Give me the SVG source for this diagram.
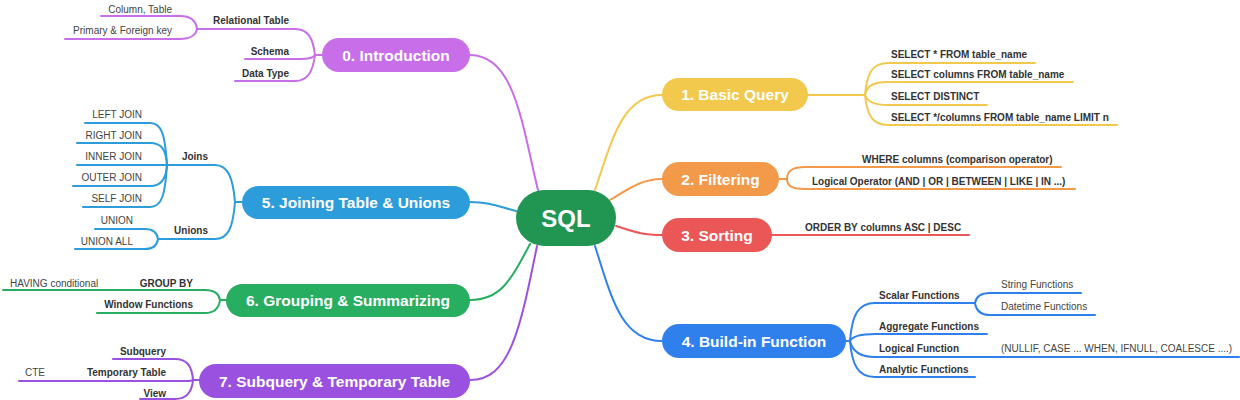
<svg xmlns="http://www.w3.org/2000/svg" width="1240" height="400" viewBox="0 0 1240 400">
<style>
.bg{fill:#ffffff}
.c{fill:none;stroke-width:2;stroke-linecap:round}
.main{font-family:"Liberation Sans",Arial,sans-serif;font-weight:bold;font-size:15.5px;fill:#ffffff;text-anchor:middle}
.root{font-family:"Liberation Sans",Arial,sans-serif;font-weight:bold;font-size:24px;fill:#ffffff;text-anchor:middle}
.b{font-family:"Liberation Sans",Arial,sans-serif;font-weight:bold;font-size:10px;fill:#333333}
.n{font-family:"Liberation Sans",Arial,sans-serif;font-size:10px;fill:#444444}
.r{text-anchor:end}
.pI{stroke:#c76ee8}.pB{stroke:#f2c94c}.pF{stroke:#f2994a}.pS{stroke:#eb5757}.pU{stroke:#2f80ed}.pJ{stroke:#2d9cdb}.pG{stroke:#27ae60}.pQ{stroke:#9b51e0}
</style>
<rect class="bg" x="0" y="0" width="1240" height="400"/>
<g id="connectors">
  <!-- root to main nodes -->
  <path class="c pI" d="M538,190 C522,125 515,55 470,55"/>
  <path class="c pB" d="M595,190 C612,140 622,95 662,95"/>
  <path class="c pF" d="M610,200 C630,188 642,179 662,179"/>
  <path class="c pS" d="M616,226 C635,232 642,235 662,235"/>
  <path class="c pU" d="M595,246 C612,300 622,341 662,341"/>
  <path class="c pJ" d="M516,211 C500,207 490,202 470,202"/>
  <path class="c pG" d="M530,244 C510,282 500,300 470,300"/>
  <path class="c pQ" d="M537,246 C520,330 510,380 470,380"/>
  <!-- Intro children -->
  <path class="c pI" d="M322,55 H315 C313,38 308,29 295,29 H197"/>
  <path class="c pI" d="M315,55 C314,57 311,59 300,59 H245"/>
  <path class="c pI" d="M315,55 C313,71 308,81 295,81 H235"/>
  <path class="c pI" d="M197,29 C196,20 190,16 180,16 H101"/>
  <path class="c pI" d="M197,29 C196,35 190,39 180,39 H65"/>
  <!-- Basic query children -->
  <path class="c pB" d="M808,95 H865"/>
  <path class="c pB" d="M865,95 C867,72 873,63 888,63 H1035"/>
  <path class="c pB" d="M865,95 C867,86 873,82 888,82 H1073"/>
  <path class="c pB" d="M865,95 C867,101 873,105 888,105 H987"/>
  <path class="c pB" d="M865,95 C867,116 873,125 888,125 H1117"/>
  <!-- Filtering children -->
  <path class="c pF" d="M779,179 H787"/>
  <path class="c pF" d="M787,179 C787,171 792,167 805,167 H1061"/>
  <path class="c pF" d="M787,179 C787,186 792,189 805,189 H1075"/>
  <!-- Sorting child -->
  <path class="c pS" d="M772,235 H969"/>
  <!-- Build-in children -->
  <path class="c pU" d="M846,341 H850"/>
  <path class="c pU" d="M850,341 C852,315 858,303 875,303 H975"/>
  <path class="c pU" d="M975,303 C976,297 980,293 990,293 H1081"/>
  <path class="c pU" d="M975,303 C976,310 980,315 990,315 H1095"/>
  <path class="c pU" d="M850,341 C852,337 858,334 875,334 H987"/>
  <path class="c pU" d="M850,341 C852,350 858,357 875,357 H1239"/>
  <path class="c pU" d="M850,341 C852,365 858,377 875,377 H975"/>
  <!-- Joining children -->
  <path class="c pJ" d="M242,202 H235"/>
  <path class="c pJ" d="M235,202 C233,178 228,165 215,165 H167"/>
  <path class="c pJ" d="M235,202 C233,228 228,239 215,239 H158"/>
  <path class="c pJ" d="M167,165 C165,135 162,123 150,123 H85"/>
  <path class="c pJ" d="M167,165 C166,150 162,143 150,143 H77"/>
  <path class="c pJ" d="M167,165 H77"/>
  <path class="c pJ" d="M167,165 C166,178 162,186 150,186 H73"/>
  <path class="c pJ" d="M167,165 C165,195 162,207 150,207 H83"/>
  <path class="c pJ" d="M158,239 C157,232 153,229 145,229 H95"/>
  <path class="c pJ" d="M158,239 C157,246 153,249 145,249 H75"/>
  <!-- Grouping children -->
  <path class="c pG" d="M226,300 H220"/>
  <path class="c pG" d="M220,300 C219,294 214,290 205,290 H3"/>
  <path class="c pG" d="M220,300 C219,308 214,313 205,313 H97"/>
  <!-- Subquery children -->
  <path class="c pQ" d="M199,380 H193"/>
  <path class="c pQ" d="M193,380 C192,366 187,359 175,359 H113"/>
  <path class="c pQ" d="M193,380 C192,381 190,381 185,381 H19"/>
  <path class="c pQ" d="M193,380 C192,392 187,399 175,399 H140"/>
</g>
<g id="root">
  <rect x="516" y="190" width="100" height="56" rx="28" fill="#219653"/>
  <text class="root" x="566" y="226.5">SQL</text>
</g>
<g id="n0">
  <rect x="322" y="38" width="148" height="34" rx="17" fill="#c76ee8"/>
  <text class="main" x="396" y="60.5">0. Introduction</text>
  <text class="b r" x="289" y="24">Relational Table</text>
  <text class="n r" x="172" y="12.5">Column, Table</text>
  <text class="n r" x="172" y="34">Primary &amp; Foreign key</text>
  <text class="b r" x="289" y="55">Schema</text>
  <text class="b r" x="289" y="76.5">Data Type</text>
</g>
<g id="n1">
  <rect x="662" y="78" width="146" height="33" rx="16.5" fill="#f2c94c"/>
  <text class="main" x="735" y="100">1. Basic Query</text>
  <text class="b" x="891" y="58">SELECT * FROM table_name</text>
  <text class="b" x="891" y="77.5">SELECT columns FROM table_name</text>
  <text class="b" x="891" y="100">SELECT DISTINCT</text>
  <text class="b" x="891" y="120.5">SELECT */columns FROM table_name LIMIT n</text>
</g>
<g id="n2">
  <rect x="662" y="162" width="117" height="34" rx="17" fill="#f2994a"/>
  <text class="main" x="720.5" y="184.5">2. Filtering</text>
  <text class="b" x="862" y="162.5">WHERE columns (comparison operator)</text>
  <text class="b" x="812" y="184.5">Logical Operator (AND | OR | BETWEEN | LIKE | IN ...)</text>
</g>
<g id="n3">
  <rect x="662" y="218" width="110" height="34" rx="17" fill="#eb5757"/>
  <text class="main" x="717" y="240.5">3. Sorting</text>
  <text class="b" x="805" y="231">ORDER BY columns ASC | DESC</text>
</g>
<g id="n4">
  <rect x="662" y="324" width="184" height="34" rx="17" fill="#2f80ed"/>
  <text class="main" x="754" y="346.5">4. Build-in Function</text>
  <text class="b" x="879" y="298.5">Scalar Functions</text>
  <text class="n" x="1001" y="287.5">String Functions</text>
  <text class="n" x="1001" y="309.5">Datetime Functions</text>
  <text class="b" x="879" y="330">Aggregate Functions</text>
  <text class="b" x="879" y="352">Logical Function</text>
  <text class="n" x="1001" y="352">(NULLIF, CASE ... WHEN, IFNULL, COALESCE ....)</text>
  <text class="b" x="879" y="373">Analytic Functions</text>
</g>
<g id="n5">
  <rect x="242" y="186" width="228" height="33" rx="16.5" fill="#2d9cdb"/>
  <text class="main" x="356" y="207.5">5. Joining Table &amp; Unions</text>
  <text class="b r" x="208" y="159.5">Joins</text>
  <text class="n r" x="142" y="118">LEFT JOIN</text>
  <text class="n r" x="142" y="138.5">RIGHT JOIN</text>
  <text class="n r" x="142" y="160">INNER JOIN</text>
  <text class="n r" x="142" y="181">OUTER JOIN</text>
  <text class="n r" x="142" y="202">SELF JOIN</text>
  <text class="b r" x="208" y="233.5">Unions</text>
  <text class="n r" x="133" y="224">UNION</text>
  <text class="n r" x="133" y="245">UNION ALL</text>
</g>
<g id="n6">
  <rect x="226" y="284" width="244" height="33" rx="16.5" fill="#27ae60"/>
  <text class="main" x="348" y="306">6. Grouping &amp; Summarizing</text>
  <text class="b r" x="193" y="287">GROUP BY</text>
  <text class="n" x="10" y="287">HAVING conditional</text>
  <text class="b r" x="193" y="308">Window Functions</text>
</g>
<g id="n7">
  <rect x="199" y="364" width="271" height="34" rx="17" fill="#9b51e0"/>
  <text class="main" x="334.5" y="386.5">7. Subquery &amp; Temporary Table</text>
  <text class="b r" x="166" y="354.5">Subquery</text>
  <text class="b r" x="166" y="375.5">Temporary Table</text>
  <text class="n" x="25" y="376">CTE</text>
  <text class="b r" x="166" y="397">View</text>
</g>
</svg>
